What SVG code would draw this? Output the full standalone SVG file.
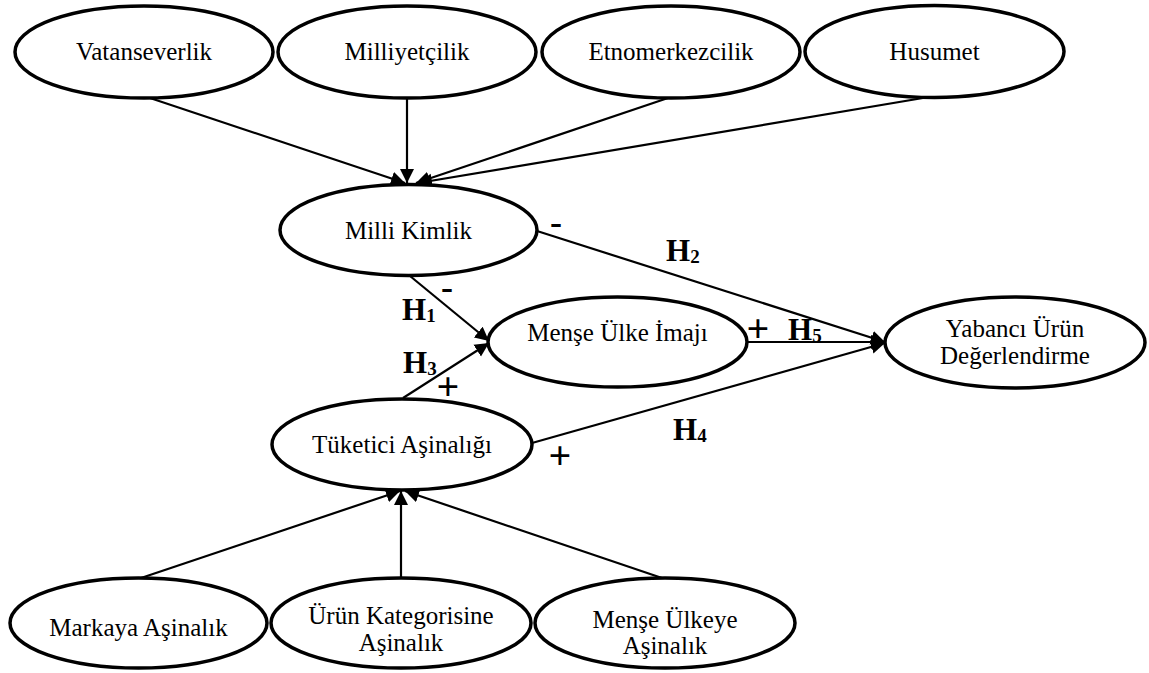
<svg xmlns="http://www.w3.org/2000/svg" width="1149" height="673" viewBox="0 0 1149 673">
<style>
  .node ellipse { fill: #ffffff; stroke: #000000; stroke-width: 3.5; }
  .node text { font-family: "Liberation Serif", "Times New Roman", serif; font-size: 25px; fill: #000000; text-anchor: middle; }
  .edge { stroke: #000000; stroke-width: 2.2; fill: none; marker-end: url(#arrow); }
  .lbl { font-family: "Liberation Serif", "Times New Roman", serif; font-weight: bold; fill: #000000; }
  .h { font-size: 31px; }
  .sub { font-size: 19px; }
  .sign { font-size: 40px; text-anchor: middle; }
  .minus { font-size: 36px; text-anchor: middle; }
</style>
<defs>
  <marker id="arrow" markerUnits="userSpaceOnUse" markerWidth="15" markerHeight="15" viewBox="0 0 15 15" refX="14" refY="7.5" orient="auto">
    <path d="M0,0.5 L14,7.5 L0,14.5 z" fill="#000000"/>
  </marker>
</defs>
<rect width="1149" height="673" fill="#ffffff"/>

<g id="connectors">
  <line class="edge" x1="150" y1="98" x2="405" y2="183"/>
  <line class="edge" x1="407" y1="98" x2="407" y2="183"/>
  <line class="edge" x1="668" y1="98" x2="416" y2="183"/>
  <line class="edge" x1="923" y1="98" x2="418" y2="183"/>
  <line class="edge" x1="537" y1="231" x2="885" y2="342"/>
  <line class="edge" x1="410" y1="276" x2="489" y2="341"/>
  <line class="edge" x1="403" y1="398" x2="489" y2="343"/>
  <line class="edge" x1="747" y1="342" x2="885" y2="342"/>
  <line class="edge" x1="532" y1="443" x2="885" y2="343"/>
  <line class="edge" x1="141" y1="578" x2="400" y2="491"/>
  <line class="edge" x1="401" y1="578" x2="401" y2="491"/>
  <line class="edge" x1="662" y1="578" x2="405" y2="491"/>
</g>

<g id="node-vatanseverlik" class="node">
  <ellipse cx="144" cy="52" rx="129" ry="46"/>
  <text x="144" y="60">Vatanseverlik</text>
</g>
<g id="node-milliyetcilik" class="node">
  <ellipse cx="407" cy="52" rx="129" ry="46"/>
  <text x="407" y="60">Milliyetçilik</text>
</g>
<g id="node-etnomerkezcilik" class="node">
  <ellipse cx="671" cy="52" rx="129" ry="46"/>
  <text x="671" y="60">Etnomerkezcilik</text>
</g>
<g id="node-husumet" class="node">
  <ellipse cx="934.5" cy="51.5" rx="129.5" ry="46"/>
  <text x="934.5" y="60">Husumet</text>
</g>
<g id="node-milli-kimlik" class="node">
  <ellipse cx="408.5" cy="230" rx="128.5" ry="45.5"/>
  <text x="408.5" y="239">Milli Kimlik</text>
</g>
<g id="node-mense-ulke-imaji" class="node">
  <ellipse cx="617.5" cy="342" rx="129.5" ry="45"/>
  <text x="617.5" y="341">Menşe Ülke İmajı</text>
</g>
<g id="node-yabanci-urun" class="node">
  <ellipse cx="1015" cy="342.5" rx="130" ry="45.5"/>
  <text x="1015" y="337">Yabancı Ürün</text>
  <text x="1015" y="364">Değerlendirme</text>
</g>
<g id="node-tuketici-asinaligi" class="node">
  <ellipse cx="402" cy="444.5" rx="130" ry="45.5"/>
  <text x="402" y="453">Tüketici Aşinalığı</text>
</g>
<g id="node-markaya-asinalik" class="node">
  <ellipse cx="138.5" cy="623" rx="128.5" ry="45"/>
  <text x="138.5" y="636">Markaya Aşinalık</text>
</g>
<g id="node-urun-kategorisine" class="node">
  <ellipse cx="401" cy="623" rx="130" ry="45"/>
  <text x="401" y="624">Ürün Kategorisine</text>
  <text x="401" y="651">Aşinalık</text>
</g>
<g id="node-mense-ulkeye" class="node">
  <ellipse cx="665" cy="623" rx="130" ry="45"/>
  <text x="665" y="628">Menşe Ülkeye</text>
  <text x="665" y="654">Aşinalık</text>
</g>

<g id="labels">
  <text class="lbl h" x="402" y="320">H<tspan class="sub" dy="2">1</tspan></text>
  <text class="lbl h" x="666" y="261">H<tspan class="sub" dy="2">2</tspan></text>
  <text class="lbl h" x="403" y="373">H<tspan class="sub" dy="2">3</tspan></text>
  <text class="lbl h" x="673" y="440">H<tspan class="sub" dy="2">4</tspan></text>
  <text class="lbl h" x="788" y="340">H<tspan class="sub" dy="2">5</tspan></text>
  <text class="lbl minus" x="556" y="234">-</text>
  <text class="lbl minus" x="447" y="299">-</text>
  <text class="lbl sign" x="758" y="342">+</text>
  <text class="lbl sign" x="448" y="400">+</text>
  <text class="lbl sign" x="560" y="469">+</text>
</g>
</svg>
